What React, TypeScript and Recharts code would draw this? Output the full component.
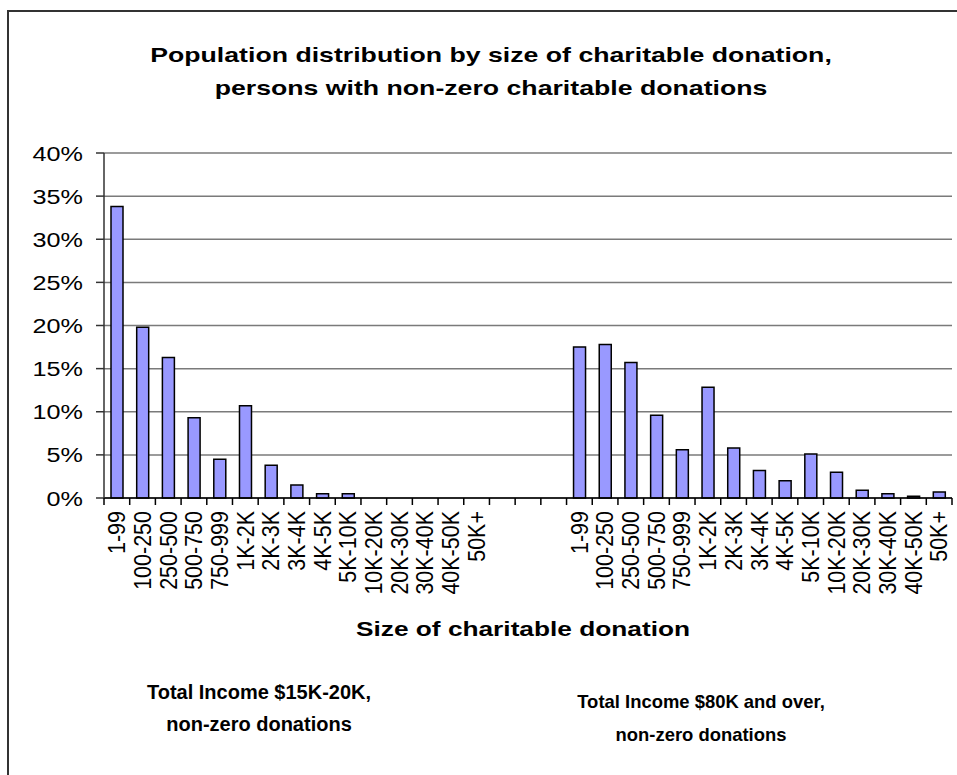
import React from 'react';
import { BarChart, Bar, XAxis, YAxis, CartesianGrid } from 'recharts';

// donation size bands, shared by both income groups
const bands = [
  '1-99', '100-250', '250-500', '500-750', '750-999', '1K-2K', '2K-3K', '3K-4K',
  '4K-5K', '5K-10K', '10K-20K', '20K-30K', '30K-40K', '40K-50K', '50K+',
];
// percent of persons, Total Income $15K-20K
const lowIncome = [33.8, 19.8, 16.3, 9.3, 4.5, 10.7, 3.8, 1.5, 0.5, 0.5, 0, 0, 0, 0, 0];
// percent of persons, Total Income $80K and over
const highIncome = [17.5, 17.8, 15.7, 9.6, 5.6, 12.85, 5.8, 3.2, 2.0, 5.1, 3.0, 0.9, 0.5, 0.2, 0.7];
const gapCount = 3;
const yTicks = [0, 5, 10, 15, 20, 25, 30, 35, 40];

const chartData = [
  ...bands.map((b, i) => ({ key: `a${i}`, label: b, value: lowIncome[i] })),
  ...Array.from({ length: gapCount }, (_, i) => ({ key: `g${i}`, label: '', value: null as number | null })),
  ...bands.map((b, i) => ({ key: `b${i}`, label: b, value: highIncome[i] })),
];

const W = 957;
const H = 775;
const PLOT_LEFT = 104;
const PLOT_RIGHT = 952;
const PLOT_TOP = 153;
const PLOT_BOTTOM = 498;
const CAT_W = (PLOT_RIGHT - PLOT_LEFT) / chartData.length;
const FONT = '"Liberation Sans", Arial, sans-serif';

const CategoryTick = (props: any) => {
  const { x, y, payload, index } = props;
  const item = chartData.find((d) => d.key === payload.value);
  const isLast = index === chartData.length - 1;
  return (
    <g>
      <line x1={x - CAT_W / 2} x2={x - CAT_W / 2} y1={y} y2={y + 7} stroke="#000" strokeWidth={1.5} />
      {isLast && (
        <line x1={x + CAT_W / 2} x2={x + CAT_W / 2} y1={y} y2={y + 7} stroke="#000" strokeWidth={1.5} />
      )}
      <g transform={`translate(${x},${y + 13}) scale(1.07,1) rotate(-90)`}>
        <text textAnchor="end" dy="0.36em" fill="#000" fontSize={21.5} fontFamily={FONT}>
          {item ? item.label : ''}
        </text>
      </g>
    </g>
  );
};

const PercentTick = (props: any) => {
  const { x, y, payload } = props;
  return (
    <g transform={`translate(${x},${y}) scale(1.2,1)`}>
      <text textAnchor="end" dy="0.36em" fill="#000" fontSize={21} fontFamily={FONT}>
        {`${payload.value}%`}
      </text>
    </g>
  );
};

const textStyle: React.CSSProperties = {
  position: 'absolute',
  fontFamily: FONT,
  fontWeight: 'bold',
  color: '#000',
  textAlign: 'center',
  whiteSpace: 'nowrap',
};

const App: React.FC = () => {
  return (
    <div
      style={{
        position: 'absolute',
        left: 0,
        top: 0,
        width: W,
        height: H,
        overflow: 'hidden',
        background: '#fff',
        fontFamily: FONT,
      }}
    >
      <div
        style={{
          position: 'absolute',
          left: 7,
          top: 10,
          width: W - 7,
          height: H - 10,
          boxSizing: 'border-box',
          borderLeft: '2px solid #333',
          borderTop: '2px solid #333',
        }}
      />
      <div
        style={{
          ...textStyle,
          left: 491,
          top: 38,
          fontSize: 21,
          lineHeight: '33px',
          transform: 'translateX(-50%) scaleX(1.27)',
        }}
      >
        Population distribution by size of charitable donation,
        <br />
        persons with non-zero charitable donations
      </div>
      <div style={{ position: 'absolute', left: 0, top: 0 }}>
        <BarChart
          width={W}
          height={H}
          data={chartData}
          margin={{ top: PLOT_TOP, right: W - PLOT_RIGHT, left: 0, bottom: H - PLOT_BOTTOM - 100 }}
          barSize={12}
        >
          <CartesianGrid vertical={false} stroke="#7a7a7a" strokeWidth={1.5} />
          <XAxis
            dataKey="key"
            interval={0}
            height={100}
            tickSize={0}
            tickMargin={0}
            axisLine={{ stroke: '#000', strokeWidth: 1.5 }}
            tickLine={false}
            tick={<CategoryTick />}
          />
          <YAxis
            width={PLOT_LEFT}
            domain={[0, 40]}
            ticks={yTicks}
            interval={0}
            tickSize={8}
            tickMargin={13}
            axisLine={{ stroke: '#333', strokeWidth: 1.5 }}
            tickLine={{ stroke: '#333', strokeWidth: 1.5 }}
            tick={<PercentTick />}
          />
          <YAxis
            yAxisId="frame"
            orientation="right"
            width={0}
            domain={[0, 40]}
            tick={false}
            tickLine={false}
            axisLine={{ stroke: '#7a7a7a', strokeWidth: 1.5 }}
          />
          <Bar
            dataKey="value"
            fill="#9999FF"
            stroke="#000"
            strokeWidth={1.5}
            isAnimationActive={false}
          />
        </BarChart>
      </div>
      <div
        style={{
          ...textStyle,
          left: 523,
          top: 617,
          fontSize: 21,
          transform: 'translateX(-50%) scaleX(1.25)',
        }}
      >
        Size of charitable donation
      </div>
      <div
        style={{
          ...textStyle,
          left: 259,
          top: 676,
          fontSize: 20,
          lineHeight: '32px',
          transform: 'translateX(-50%)',
        }}
      >
        Total Income $15K-20K,
        <br />
        non-zero donations
      </div>
      <div
        style={{
          ...textStyle,
          left: 701,
          top: 685,
          fontSize: 19,
          lineHeight: '33px',
          transform: 'translateX(-50%) scaleX(0.97)',
        }}
      >
        Total Income $80K and over,
        <br />
        non-zero donations
      </div>
    </div>
  );
};

export default App;
